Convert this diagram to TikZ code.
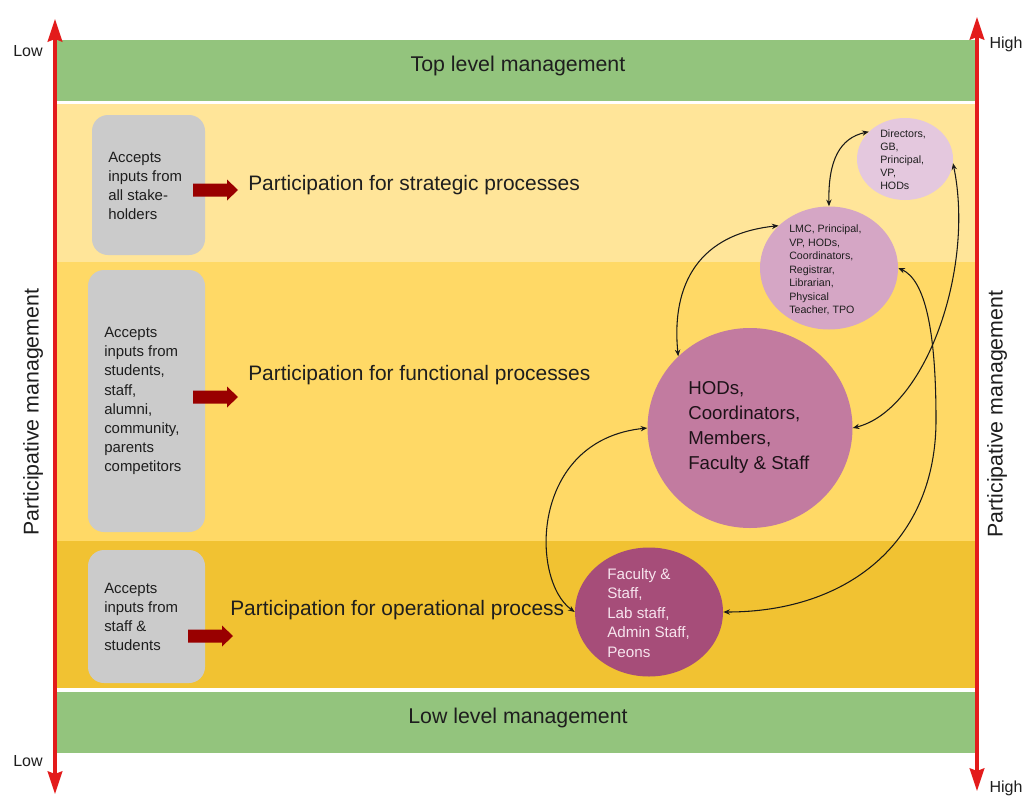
\documentclass[tikz,border=0pt]{standalone}
\usepackage{fontspec}
\setmainfont{Liberation Sans}
\usetikzlibrary{arrows.meta,shapes.geometric}
\definecolor{bandgreen}{HTML}{93C47D}
\definecolor{ylight}{HTML}{FFE599}
\definecolor{ymid}{HTML}{FFD966}
\definecolor{ydark}{HTML}{F1C232}
\definecolor{boxgray}{HTML}{CBCBCB}
\definecolor{arrowdark}{HTML}{990000}
\definecolor{axisred}{HTML}{E31B1B}
\definecolor{cdir}{HTML}{E4C8DE}
\definecolor{clmc}{HTML}{D5A6C5}
\definecolor{chod}{HTML}{C27BA0}
\definecolor{cfac}{HTML}{A64D79}
\definecolor{factext}{HTML}{F7E4EE}
\definecolor{txt}{HTML}{1E1E1E}
\begin{document}
\begin{tikzpicture}[x=0.75pt,y=-0.75pt,
  bandtitle/.style={font=\fontsize{16}{19}\selectfont, text=txt, inner sep=0},
  boxtext/.style={font=\fontsize{11.2}{14.3}\selectfont, text=txt, align=left, anchor=west, inner sep=0},
  parttext/.style={font=\fontsize{15.7}{18}\selectfont, text=txt, anchor=west, inner sep=0},
  sidetext/.style={font=\fontsize{16}{19}\selectfont, text=txt, rotate=90, inner sep=0},
  levtext/.style={font=\fontsize{12}{14}\selectfont, text=txt, inner sep=0},
  graybox/.style={fill=boxgray, rounded corners=12pt},
  axis/.style={draw=axisred, line width=2.4pt, {Stealth[length=17pt,width=11pt,inset=2pt]}-{Stealth[length=17pt,width=11pt,inset=2pt]}},
  blob/.style={ellipse, inner sep=0, draw=none},
  circtext/.style={align=left, anchor=west, inner sep=0},
  link/.style={draw=black!90, line width=0.8pt, {Stealth[length=5pt,width=4pt]}-{Stealth[length=5pt,width=4pt]}},
  blockarrow/.pic={\fill[arrowdark] (0,-6.5)--(34,-6.5)--(34,-10.5)--(45,0)--(34,10.5)--(34,6.5)--(0,6.5)--cycle;}
]
\useasboundingbox (0,0) rectangle (1027,796);
\fill[white] (0,0) rectangle (1027,796);

% bands
\fill[bandgreen] (57,40) rectangle (975,101);
\fill[ylight] (57,104) rectangle (975,262);
\fill[ymid] (57,262) rectangle (975,541);
\fill[ydark] (57,541) rectangle (975,688);
\fill[bandgreen] (57,692) rectangle (975,753);
\node[bandtitle] (toptitle) at (518,66) {Top level management};
\node[bandtitle] (lowtitle) at (518,718) {Low level management};

% gray boxes
\path[graybox] (92,115) rectangle (205,255);
\path[graybox] (88,270) rectangle (205,532);
\path[graybox] (88,550) rectangle (205,683);
\node[boxtext] (b1) at (108,186) {Accepts\\inputs from\\all stake-\\holders};
\node[boxtext] (b2) at (104,401) {Accepts\\inputs from\\students,\\staff,\\alumni,\\community,\\parents\\competitors};
\node[boxtext] (b3) at (104,617) {Accepts\\inputs from\\staff \&\\students};

% block arrows
\pic at (193,190) {blockarrow};
\pic at (193,397) {blockarrow};
\pic at (188,636) {blockarrow};

% participation texts
\node[parttext] (p1) at (248,185) {Participation for strategic processes};
\node[parttext] (p2) at (248,375) {Participation for functional processes};
\node[parttext] (p3) at (230,610) {Participation for operational process};

% circles
\node[blob, fill=cdir, minimum width=72pt, minimum height=61.5pt] (dirc) at (905,159) {};
\node[blob, fill=clmc, minimum width=103.5pt, minimum height=92.25pt] (lmc) at (829,268) {};
\node[blob, fill=chod, minimum width=153.75pt, minimum height=150pt] (hods) at (750,428) {};
\node[blob, fill=cfac, minimum width=111pt, minimum height=96.75pt] (fac) at (649,612) {};

\node[circtext, font=\fontsize{8}{9.75}\selectfont, text=txt] (dirt) at (880,160) {Directors,\\GB,\\Principal,\\VP,\\HODs};
\node[circtext, font=\fontsize{8}{10.1}\selectfont, text=txt] (lmct) at (789,270) {LMC, Principal,\\VP, HODs,\\Coordinators,\\Registrar,\\Librarian,\\Physical\\Teacher, TPO};
\node[circtext, font=\fontsize{14}{18.75}\selectfont, text=black!85!chod] (hodt) at (688,427) {HODs,\\Coordinators,\\Members,\\Faculty \& Staff};
\node[circtext, font=\fontsize{11.4}{14.6}\selectfont, text=factext] (fact) at (607,613) {Faculty \&\\Staff,\\Lab staff,\\Admin Staff,\\Peons};

% connectors
\draw[link] (lmc.north) .. controls (828,160) and (840,138) .. (dirc.143);
\draw[link] (hods.135) .. controls (672,295) and (690,235) .. (lmc.140);
\draw[link] (fac.west) .. controls (530,580) and (530,440) .. (hods.west);
\draw[link] (hods.east) .. controls (925,410) and (975,270) .. (dirc.-5);
\coordinate (bmid) at (936,420);
\draw[link] (fac.east) .. controls (850,612) and (936,540) .. (bmid) .. controls (936,330) and (925,280) .. (lmc.east);

% axes
\coordinate (ltop) at (55,19);
\coordinate (lbot) at (55,794);
\coordinate (rtop) at (977,17);
\coordinate (rbot) at (977,791);
\draw[axis] (lbot) -- (ltop);
\draw[axis] (rbot) -- (rtop);

\node[levtext] (low1) at (28,51) {Low};
\node[levtext] (low2) at (28,761) {Low};
\node[levtext] (high1) at (1006,44) {High};
\node[levtext] (high2) at (1006,788) {High};

\node[sidetext] (pml) at (33,412) {Participative management};
\node[sidetext] (pmr) at (997,414) {Participative management};
\end{tikzpicture}
\end{document}
